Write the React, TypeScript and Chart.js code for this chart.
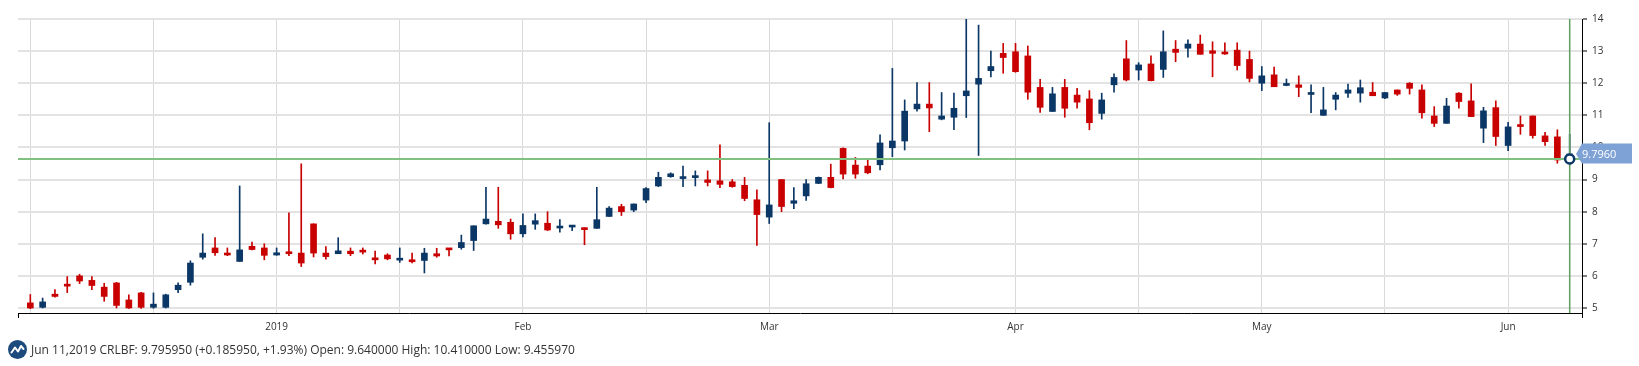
import React, { useEffect, useRef } from 'react';
import { Chart, registerables } from 'chart.js';

Chart.register(...registerables);

// OHLC per trading session (index 0 .. 125, last = Jun 11, 2019)
const opens = [
  5.16, 5.02, 5.43, 5.73, 6.00, 5.86, 5.65, 5.78, 5.25, 5.47,
  5.02, 5.02, 5.57, 5.80, 6.58, 6.87, 6.68, 6.45, 6.92, 6.87,
  6.65, 6.74, 6.71, 7.62, 6.71, 6.69, 6.77, 6.79, 6.55, 6.65,
  6.49, 6.50, 6.48, 6.69, 6.86, 6.88, 7.10, 7.62, 7.70, 7.67,
  7.31, 7.61, 7.64, 7.49, 7.52, 7.49, 7.48, 7.85, 8.16, 8.05,
  8.36, 8.80, 9.09, 9.03, 9.06, 8.99, 8.96, 8.93, 8.82, 8.37,
  7.83, 9.00, 8.26, 8.49, 8.88, 9.07, 9.97, 9.45, 9.42, 9.46,
  9.99, 10.20, 11.20, 11.35, 10.88, 10.94, 11.61, 11.97, 12.39, 12.93,
  12.98, 12.85, 11.87, 11.12, 11.87, 11.63, 11.51, 11.06, 11.95, 12.76,
  12.41, 12.60, 12.43, 13.06, 13.09, 13.22, 13.01, 12.95, 13.03, 12.74,
  12.00, 12.26, 11.93, 11.95, 11.65, 11.00, 11.50, 11.69, 11.69, 11.72,
  11.54, 11.79, 12.00, 11.79, 10.98, 10.75, 11.69, 11.45, 10.60, 11.24,
  10.06, 10.70, 10.98, 10.36, 10.33, 9.64,
];
const highs = [
  5.42, 5.31, 5.57, 5.98, 6.05, 5.98, 5.77, 5.80, 5.41, 5.49,
  5.47, 5.43, 5.78, 6.47, 7.31, 7.19, 6.87, 8.80, 7.05, 7.00,
  6.87, 7.96, 9.49, 7.62, 6.91, 7.19, 6.87, 6.87, 6.77, 6.69,
  6.87, 6.71, 6.86, 6.86, 6.86, 7.27, 7.56, 8.76, 8.76, 7.77,
  7.93, 7.93, 8.00, 7.75, 7.57, 7.50, 8.76, 8.16, 8.23, 8.24,
  8.75, 9.23, 9.21, 9.42, 9.27, 9.27, 10.08, 9.00, 9.07, 8.68,
  10.77, 9.00, 8.75, 9.00, 9.08, 9.48, 9.99, 9.69, 9.66, 10.39,
  12.46, 11.48, 12.02, 12.02, 11.71, 11.69, 14.00, 13.81, 13.00, 13.24,
  13.24, 13.16, 12.12, 11.87, 12.12, 11.84, 11.77, 11.69, 12.29, 13.33,
  12.64, 12.85, 13.63, 13.33, 13.35, 13.50, 13.29, 13.26, 13.26, 13.00,
  12.52, 12.50, 12.13, 12.23, 11.95, 11.87, 11.71, 11.97, 12.10, 12.02,
  11.72, 11.79, 12.02, 11.95, 11.27, 11.53, 11.71, 11.98, 11.25, 11.45,
  10.78, 10.98, 10.98, 10.47, 10.55, 10.41,
];
const lows = [
  4.98, 5.00, 5.34, 5.48, 5.76, 5.57, 5.21, 5.00, 4.99, 4.99,
  4.99, 5.00, 5.48, 5.71, 6.52, 6.64, 6.63, 6.45, 6.81, 6.50,
  6.64, 6.63, 6.29, 6.59, 6.52, 6.69, 6.63, 6.68, 6.37, 6.50,
  6.42, 6.40, 6.09, 6.58, 6.62, 6.83, 6.79, 7.61, 7.48, 7.14,
  7.21, 7.45, 7.41, 7.36, 7.41, 6.97, 7.48, 7.85, 7.88, 8.00,
  8.28, 8.78, 9.07, 8.78, 8.80, 8.80, 8.75, 8.76, 8.34, 6.95,
  7.63, 8.00, 8.09, 8.35, 8.87, 8.74, 9.02, 9.04, 9.18, 9.30,
  9.71, 9.92, 11.13, 10.49, 10.86, 10.55, 10.93, 9.75, 12.20, 12.31,
  12.34, 11.50, 11.09, 11.12, 10.94, 11.22, 10.55, 10.88, 11.72, 12.07,
  12.10, 12.07, 12.18, 12.67, 12.81, 12.90, 12.20, 12.90, 12.41, 12.04,
  11.77, 11.89, 11.92, 11.58, 11.08, 11.00, 11.17, 11.56, 11.41, 11.61,
  11.52, 11.62, 11.66, 10.91, 10.65, 10.75, 11.22, 10.96, 10.15, 10.06,
  9.90, 10.41, 10.29, 10.06, 9.51, 9.456,
];
const closes = [
  5.00, 5.19, 5.36, 5.68, 5.84, 5.70, 5.36, 5.08, 5.00, 5.02,
  5.12, 5.41, 5.71, 6.40, 6.71, 6.72, 6.65, 6.81, 6.82, 6.64,
  6.72, 6.69, 6.40, 6.71, 6.60, 6.78, 6.69, 6.74, 6.50, 6.53,
  6.53, 6.44, 6.71, 6.62, 6.81, 7.04, 7.56, 7.77, 7.59, 7.31,
  7.57, 7.72, 7.43, 7.52, 7.57, 7.44, 7.75, 8.11, 8.00, 8.24,
  8.72, 9.07, 9.18, 9.07, 9.11, 8.91, 8.85, 8.78, 8.41, 7.91,
  8.21, 8.16, 8.34, 8.87, 9.07, 8.75, 9.17, 9.17, 9.21, 10.14,
  10.20, 11.13, 11.35, 11.23, 10.98, 11.22, 11.76, 12.15, 12.52, 12.80,
  12.36, 11.72, 11.25, 11.67, 11.22, 11.41, 10.77, 11.48, 12.18, 12.10,
  12.57, 12.08, 12.98, 12.96, 13.22, 12.90, 12.93, 12.91, 12.55, 12.15,
  12.23, 11.89, 11.98, 11.87, 11.69, 11.17, 11.63, 11.79, 11.86, 11.61,
  11.71, 11.66, 11.84, 11.08, 10.75, 11.29, 11.43, 10.96, 11.14, 10.34,
  10.64, 10.65, 10.37, 10.18, 9.61, 9.796,
];

const gridIndices = [0, 10, 20, 30, 40, 50, 60, 70, 80, 90, 100, 110, 120];
const monthTickIndices = [20, 40, 60, 80, 100, 120];
const monthTickLabels = ['2019', 'Feb', 'Mar', 'Apr', 'May', 'Jun'];
const yTicks = [5, 6, 7, 8, 9, 10, 11, 12, 13, 14];

const cursorValue = 9.64;
const lastCloseLabel = '9.7960';
const footerText =
  'Jun 11,2019 CRLBF: 9.795950 (+0.185950, +1.93%) Open: 9.640000 High: 10.410000 Low: 9.455970';

const UP = '#0b3766';
const DOWN = '#c80000';
const W = 1639;
const H = 340;
const FONT = "'Open Sans', 'Noto Sans', sans-serif";

export default function App() {
  const ref = useRef<HTMLCanvasElement | null>(null);

  useEffect(() => {
    if (!ref.current) return;
    const idx = opens.map((_, i) => i);
    const colors = idx.map((i) => (closes[i] >= opens[i] ? UP : DOWN));
    const lastIndex = opens.length - 1;

    const overlay = {
      id: 'overlay',
      afterDatasetsDraw(chart: any) {
        const { ctx, chartArea: a, scales } = chart;
        const x = scales.x;
        const y = scales.y;
        const cy = y.getPixelForValue(cursorValue);
        const cx = x.getPixelForValue(lastIndex);
        const ly = y.getPixelForValue(closes[lastIndex]);
        ctx.save();
        // horizontal crosshair
        ctx.strokeStyle = '#80c080';
        ctx.lineWidth = 2;
        ctx.beginPath();
        ctx.moveTo(a.left, cy);
        ctx.lineTo(a.right, cy);
        ctx.stroke();
        // vertical crosshair
        ctx.strokeStyle = '#5f9f5f';
        ctx.lineWidth = 1.5;
        ctx.beginPath();
        ctx.moveTo(cx, a.top);
        ctx.lineTo(cx, a.bottom);
        ctx.stroke();
        // marker
        ctx.beginPath();
        ctx.arc(cx, cy, 4.5, 0, Math.PI * 2);
        ctx.fillStyle = '#ffffff';
        ctx.fill();
        ctx.strokeStyle = '#0b3766';
        ctx.lineWidth = 2.5;
        ctx.stroke();
        // end ticks of x axis
        ctx.strokeStyle = '#000';
        ctx.lineWidth = 1;
        ctx.beginPath();
        ctx.moveTo(a.left + 0.5, a.bottom);
        ctx.lineTo(a.left + 0.5, a.bottom + 5);
        ctx.moveTo(a.right + 0.5, a.bottom);
        ctx.lineTo(a.right + 0.5, a.bottom + 5);
        ctx.stroke();
        // last value label
        const bl = a.right;
        const br = a.right + 50;
        const top = ly - 10.5;
        const bot = ly + 9.5;
        ctx.fillStyle = '#7fa2d6';
        ctx.beginPath();
        ctx.moveTo(bl - 6, ly);
        ctx.lineTo(bl, top);
        ctx.lineTo(br, top);
        ctx.lineTo(br, bot);
        ctx.lineTo(bl, bot);
        ctx.closePath();
        ctx.fill();
        ctx.fillStyle = '#ffffff';
        ctx.font = `11px ${FONT}`;
        ctx.textBaseline = 'middle';
        ctx.textAlign = 'left';
        ctx.fillText(lastCloseLabel, bl, ly + 0.5);
        ctx.restore();
      },
    };

    const chart = new Chart(ref.current, {
      type: 'bar',
      data: {
        datasets: [
          {
            label: 'wick',
            data: idx.map((i) => ({ x: i, y: [lows[i], highs[i]] })) as any,
            backgroundColor: colors,
            barThickness: 1,
            grouped: false,
            order: 2,
          } as any,
          {
            label: 'body',
            data: idx.map((i) => ({ x: i, y: [opens[i], closes[i]] })) as any,
            backgroundColor: colors,
            barThickness: 6,
            minBarLength: 2,
            grouped: false,
            order: 1,
          } as any,
        ],
      },
      options: {
        animation: false,
        responsive: false,
        maintainAspectRatio: false,
        layout: { padding: { left: 18, top: 19, right: 0, bottom: 0 } },
        plugins: {
          legend: { display: false },
          tooltip: { enabled: false },
        },
        scales: {
          x: {
            type: 'linear',
            min: -1,
            max: 126,
            offset: false,
            afterBuildTicks: (s: any) => {
              s.ticks = gridIndices.map((v) => ({ value: v }));
            },
            afterFit: (s: any) => {
              s.height = H - 313;
            },
            ticks: {
              autoSkip: false,
              maxRotation: 0,
              padding: 8,
              color: '#333',
              font: { family: FONT, size: 10 },
              callback: (v: any) => {
                const k = monthTickIndices.indexOf(Number(v));
                return k >= 0 ? monthTickLabels[k] : '';
              },
            },
            grid: { color: '#d9d9d9', lineWidth: 1, drawTicks: false, offset: false },
            border: { color: '#000', width: 1 },
          } as any,
          y: {
            position: 'right',
            min: 4.844,
            max: 14,
            afterBuildTicks: (s: any) => {
              s.ticks = yTicks.map((v) => ({ value: v }));
            },
            afterFit: (s: any) => {
              s.width = W - 1582;
            },
            ticks: {
              padding: 5,
              color: '#333',
              font: { family: FONT, size: 10 },
              callback: (v: any) => String(v),
            },
            grid: {
              color: '#e3e3e3',
              lineWidth: 2,
              tickColor: '#000',
              tickLength: 5,
              tickWidth: 1,
            },
            border: { color: '#000', width: 1 },
          } as any,
        },
      },
      plugins: [overlay],
    });
    return () => chart.destroy();
  }, []);

  return (
    <div style={{ position: 'absolute', left: 0, top: 0, width: W, height: 366, background: '#fff' }}>
      <canvas ref={ref} width={W} height={H} style={{ display: 'block', width: W, height: H }} />
      <div
        style={{
          position: 'absolute',
          left: 8,
          top: 339,
          height: 20,
          display: 'flex',
          alignItems: 'center',
          fontFamily: FONT,
          fontSize: 12,
          color: '#333',
          whiteSpace: 'nowrap',
        }}
      >
        <svg width="19" height="19" viewBox="0 0 19 19" style={{ marginRight: 4 }}>
          <circle cx="9.5" cy="9.5" r="9.5" fill="#1d4a7c" />
          <polyline
            points="3.5,12.5 7,7.5 10,11.5 13,6 15.5,9"
            fill="none"
            stroke="#ffffff"
            strokeWidth="2"
            strokeLinejoin="round"
            strokeLinecap="round"
          />
        </svg>
        <span>{footerText}</span>
      </div>
    </div>
  );
}
